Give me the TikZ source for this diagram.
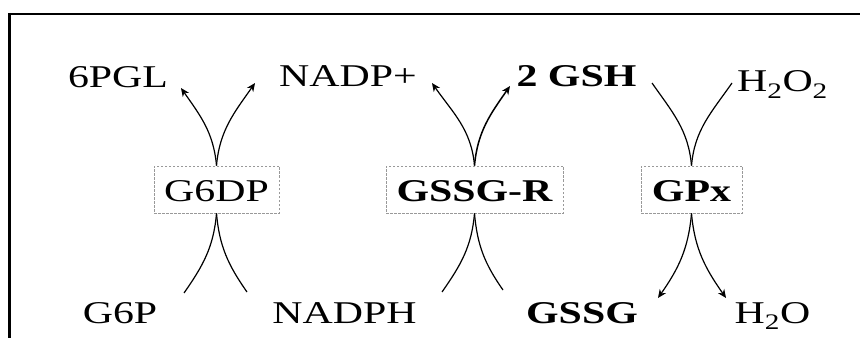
\documentclass[tikz,border=0pt]{standalone}
\usepackage{fontspec}
\setmainfont[FakeStretch=1.32]{Liberation Serif}
\usetikzlibrary{arrows.meta}
\begin{document}
\begin{tikzpicture}[x=1pt,y=1pt,
  lbl/.style={anchor=base, inner sep=0pt, font=\fontsize{31.7}{38}\selectfont},
  bf/.style={font=\fontsize{31.7}{38}\selectfont\bfseries},
  enz/.style={draw=gray!80, dash pattern=on 2.5pt off 1.5pt, line width=0.9pt,
    minimum height=47pt, inner sep=0pt, text height=25pt, text depth=0pt,
    font=\fontsize{31.7}{38}\selectfont},
  rx/.style={line width=1.2pt},
  tip/.style={-{Stealth[length=8.5pt,width=7.5pt]}},
]
\useasboundingbox (0,0) rectangle (860,338);
\draw[line width=2pt] (8,324) -- (860,324);
\draw[line width=3pt] (9.5,325) -- (9.5,0);

% enzymes
\node[enz, minimum width=125pt] (g6dp) at (216.5,148.5) {G6DP};
\node[enz, bf, minimum width=177pt] (gssgr) at (474.5,148.5) {GSSG-R};
\node[enz, bf, minimum width=101pt] (gpx) at (691.5,148.5) {GPx};

% labels
\node[lbl] (pgl) at (118,250) {6PGL};
\node[lbl] (nadpp) at (348,251) {NADP+};
\node[lbl,bf] (gsh) at (576.5,251) {2 GSH};
\node[lbl] (hoo) at (782.5,246) {H\textsubscript{2}O\textsubscript{2}};
\node[lbl] (g6p) at (120,15) {G6P};
\node[lbl] (nadph) at (344.5,15) {NADPH};
\node[lbl,bf] (gssg) at (582,15) {GSSG};
\node[lbl] (hho) at (772.5,15) {H\textsubscript{2}O};

% arrow end points
\coordinate (a1) at (181,250);
\coordinate (a2) at (255,255);
\coordinate (a3) at (184,45);
\coordinate (a4) at (247,46);
\coordinate (b1) at (432,255);
\coordinate (b2) at (510,252);
\coordinate (b3) at (442,46);
\coordinate (b4) at (503,48);
\coordinate (c1) at (652,255);
\coordinate (c2) at (732,255);
\coordinate (c3) at (658,40);
\coordinate (c4) at (726,40);

% G6DP
\draw[rx,tip] (g6dp.north) to[out=95,in=-55] (a1);
\draw[rx,tip] (g6dp.north) to[out=85,in=-125] (a2);
\draw[rx] (g6dp.south) to[out=-95,in=55] (a3);
\draw[rx] (g6dp.south) to[out=-85,in=125] (a4);
% GSSG-R
\draw[rx,tip] (gssgr.north) to[out=95,in=-55] (b1);
\draw[rx,tip,line width=1.5pt] (gssgr.north) to[out=85,in=-125] (b2);
\draw[rx] (gssgr.south) to[out=-95,in=55] (b3);
\draw[rx] (gssgr.south) to[out=-85,in=125] (b4);
% GPx
\draw[rx] (gpx.north) to[out=95,in=-55] (c1);
\draw[rx] (gpx.north) to[out=85,in=-125] (c2);
\draw[rx,tip] (gpx.south) to[out=-95,in=55] (c3);
\draw[rx,tip] (gpx.south) to[out=-85,in=125] (c4);
\end{tikzpicture}
\end{document}
